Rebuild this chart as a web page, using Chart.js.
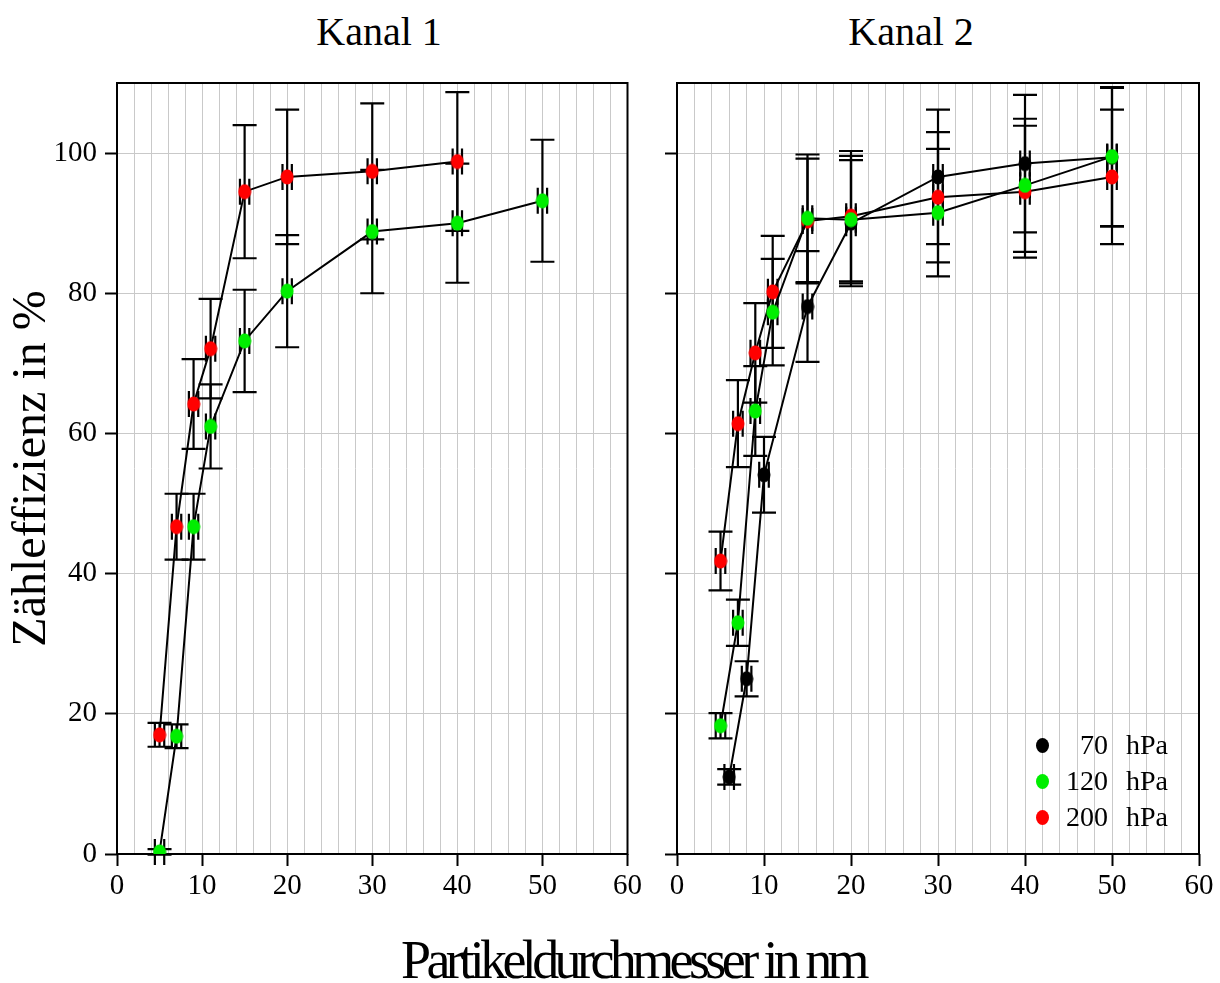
<!DOCTYPE html>
<html>
<head>
<meta charset="utf-8">
<script src="https://cdn.jsdelivr.net/npm/chart.js@4/dist/chart.umd.min.js"></script>
<style>
  html, body { margin: 0; padding: 0; background: #fff; overflow: hidden; }
  #page { position: relative; width: 1220px; height: 983px; font-family: "Liberation Serif", "DejaVu Serif", serif; color: #000; }
  .panel-title { position: absolute; top: 8px; font-size: 40px; line-height: 48px; transform: translateX(-50%); white-space: nowrap; }
  #xtitle { position: absolute; left: 633px; top: 930px; font-size: 54px; line-height: 60px; letter-spacing: -4.6px; transform: translateX(-50%); white-space: nowrap; }
  #left { position: absolute; left: 0; top: 0; }
  #right { position: absolute; left: 645px; top: 0; }
  .leg { position: absolute; font-size: 28px; line-height: 32px; white-space: nowrap; width: 140px; }
  .leg .dot { position: absolute; left: 0; top: 9px; width: 13px; height: 15px; border-radius: 50%; }
  .leg .num { position: absolute; left: 12px; width: 60px; text-align: right; }
  .leg .unit { position: absolute; left: 90px; }
</style>
</head>
<body>
<div id="page">
  <div class="panel-title" style="left:379px">Kanal 1</div>
  <div class="panel-title" style="left:911px">Kanal 2</div>
  <canvas id="left" width="645" height="920"></canvas>
  <canvas id="right" width="575" height="920"></canvas>
  <div id="legend"></div>
  <div id="xtitle">Partikeldurchmesser in nm</div>
</div>
<script>
// Kanal 1
const diamK1Red = [5, 7, 9, 11, 15, 20, 30, 40];
const effK1Red = [17.0, 46.7, 64.2, 72.1, 94.5, 96.6, 97.4, 98.8];
const errK1Red = [1.7, 4.7, 6.4, 7.1, 9.5, 9.6, 9.7, 9.9];
const diamK1Green = [5, 7, 9, 11, 15, 20, 30, 40, 50];
const effK1Green = [0.3, 16.8, 46.7, 61.0, 73.2, 80.3, 88.8, 90.0, 93.2];
const errK1Green = [0.4, 1.7, 4.7, 6.0, 7.3, 8.0, 8.8, 8.5, 8.7];

// Kanal 2
const diamK2Black = [6, 8, 10, 15, 20, 30, 40, 50];
const effK2Black = [11.0, 25.0, 54.1, 78.1, 90.0, 96.6, 98.5, 99.4];
const errK2Black = [1.1, 2.5, 5.4, 7.9, 9.0, 9.6, 9.8, 9.9];
const diamK2Green = [5, 7, 9, 11, 15, 20, 30, 40, 50];
const effK2Green = [18.3, 33.0, 63.2, 77.3, 90.7, 90.5, 91.5, 95.4, 99.5];
const errK2Green = [1.8, 3.3, 6.4, 7.6, 9.1, 9.1, 9.1, 9.5, 9.9];
const diamK2Red = [5, 7, 9, 11, 15, 20, 30, 40, 50];
const effK2Red = [41.8, 61.4, 71.5, 80.2, 90.3, 91.0, 93.7, 94.5, 96.6];
const errK2Red = [4.2, 6.2, 7.1, 8.0, 8.9, 9.3, 9.3, 9.4, 9.6];

// diameter uncertainty (nm), same for every point
const diamErr = 0.55;

const pressures = ["70", "120", "200"];
const pressureColors = ["#000000", "#00ee00", "#ff0000"];

const xTicks = [0, 10, 20, 30, 40, 50, 60];
const xGrid = [0, 2, 4, 6, 8, 10, 12, 14, 16, 18, 20, 22, 24, 26, 28, 30,
               32, 34, 36, 38, 40, 42, 44, 46, 48, 50, 52, 54, 56, 58, 60];
const yTicks = [0, 20, 40, 60, 80, 100];

const FONT = "'Liberation Serif', 'DejaVu Serif', serif";

function marker(color) {
  const c = document.createElement("canvas");
  c.width = 14; c.height = 16;
  const g = c.getContext("2d");
  g.fillStyle = color;
  g.beginPath();
  g.ellipse(7, 8, 6.5, 7.5, 0, 0, Math.PI * 2);
  g.fill();
  return c;
}

function series(label, diam, eff, err, color, order) {
  return {
    label: label,
    data: diam.map((d, i) => ({ x: d, y: eff[i] })),
    yErr: err,
    borderColor: "#000",
    borderWidth: 2,
    tension: 0,
    pointStyle: marker(color),
    pointRadius: 7,
    order: order
  };
}

// error bars in both directions, drawn beneath lines and markers
const errorBars = {
  id: "errorBars",
  beforeDatasetsDraw(chart) {
    const ctx = chart.ctx;
    const xs = chart.scales.x, ys = chart.scales.y;
    ctx.save();
    ctx.strokeStyle = "#000";
    ctx.lineWidth = 2.2;
    chart.data.datasets.forEach(ds => {
      ds.data.forEach((p, i) => {
        const px = xs.getPixelForValue(p.x);
        const py = ys.getPixelForValue(p.y);
        const top = ys.getPixelForValue(p.y + ds.yErr[i]);
        const bot = ys.getPixelForValue(p.y - ds.yErr[i]);
        const lx = xs.getPixelForValue(p.x - diamErr);
        const rx = xs.getPixelForValue(p.x + diamErr);
        ctx.beginPath();
        ctx.moveTo(px, top); ctx.lineTo(px, bot);
        ctx.moveTo(px - 12, top); ctx.lineTo(px + 12, top);
        ctx.moveTo(px - 12, bot); ctx.lineTo(px + 12, bot);
        ctx.moveTo(lx, py); ctx.lineTo(rx, py);
        ctx.moveTo(lx, py - 13); ctx.lineTo(lx, py + 13);
        ctx.moveTo(rx, py - 13); ctx.lineTo(rx, py + 13);
        ctx.stroke();
      });
    });
    ctx.restore();
  }
};

// closed box round the plot area
const frame = {
  id: "frame",
  beforeDatasetsDraw(chart) {
    const a = chart.chartArea, ctx = chart.ctx;
    ctx.save();
    ctx.strokeStyle = "#000";
    ctx.lineWidth = 2;
    ctx.strokeRect(a.left, a.top, a.right - a.left, a.bottom - a.top);
    ctx.restore();
  }
};

function panel(canvas, datasets, showY, yWidth, padRight) {
  return new Chart(canvas, {
    type: "line",
    data: { datasets: datasets },
    plugins: [frame, errorBars],
    options: {
      animation: false,
      responsive: false,
      layout: { padding: { top: 83, right: padRight, left: 0, bottom: 0 } },
      plugins: { legend: { display: false }, tooltip: { enabled: false } },
      scales: {
        x: {
          type: "linear", min: 0, max: 60,
          afterBuildTicks: s => { s.ticks = xGrid.map(v => ({ value: v })); },
          ticks: {
            autoSkip: false, color: "#000", padding: 3, maxRotation: 0,
            font: { family: FONT, size: 29 },
            callback: v => xTicks.includes(v) ? String(v) : ""
          },
          grid: {
            color: "#c9c9c9", lineWidth: 1, tickLength: 12, tickWidth: 2,
            tickColor: c => xTicks.includes(c.tick.value) ? "#000" : "rgba(0,0,0,0)"
          },
          border: { display: false },
          afterFit: s => { s.height = 66; }
        },
        y: {
          type: "linear", min: 0, max: 110,
          afterBuildTicks: s => { s.ticks = yTicks.map(v => ({ value: v })); },
          ticks: {
            display: showY, color: "#000", padding: 8,
            font: { family: FONT, size: 29 }
          },
          grid: { color: "#c9c9c9", lineWidth: 1, tickLength: 12, tickWidth: 2, tickColor: "#000" },
          border: { display: false },
          title: {
            display: showY, text: "Zähleffizienz in %", color: "#000",
            font: { family: FONT, size: 48 }, padding: { top: 4, bottom: 0 }
          },
          afterFit: s => { s.width = yWidth; }
        }
      }
    }
  });
}

panel(document.getElementById("left"), [
  series("120 hPa", diamK1Green, effK1Green, errK1Green, pressureColors[1], 0),
  series("200 hPa", diamK1Red, effK1Red, errK1Red, pressureColors[2], 1)
], true, 117, 15);

panel(document.getElementById("right"), [
  series("120 hPa", diamK2Green, effK2Green, errK2Green, pressureColors[1], 0),
  series("200 hPa", diamK2Red, effK2Red, errK2Red, pressureColors[2], 1),
  series("70 hPa", diamK2Black, effK2Black, errK2Black, pressureColors[0], 2)
], false, 32, 21);

// legend inside the Kanal 2 plot
const legend = document.getElementById("legend");
pressures.forEach((p, i) => {
  const row = document.createElement("div");
  row.className = "leg";
  row.style.left = "1036px";
  row.style.top = (729 + i * 36) + "px";
  row.innerHTML = '<span class="dot" style="background:' + pressureColors[i] + '"></span>' +
    '<span class="num">' + p + '</span><span class="unit">hPa</span>';
  legend.appendChild(row);
});
</script>
</body>
</html>
